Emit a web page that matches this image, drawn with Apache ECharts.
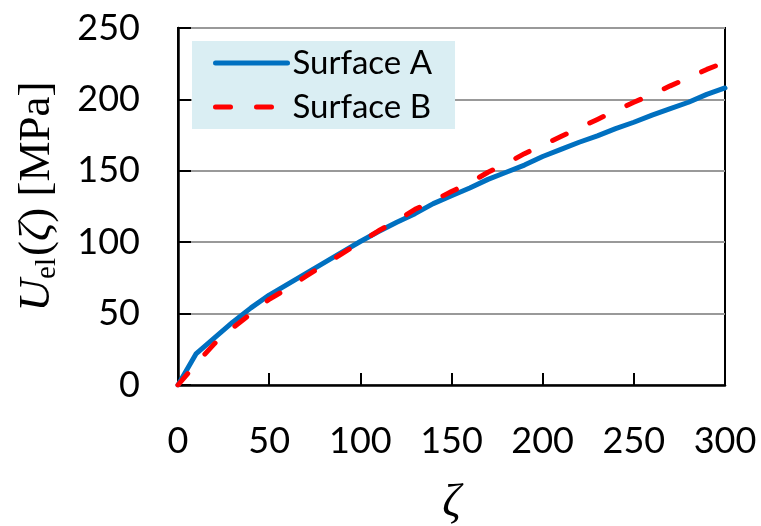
<!DOCTYPE html>
<html>
<head>
<meta charset="utf-8">
<script src="https://cdn.jsdelivr.net/npm/echarts@6/dist/echarts.min.js"></script>
<style>
html,body{margin:0;padding:0;background:#fff;}
#chart{width:761px;height:526px;}
</style>
</head>
<body>
<div id="chart"></div>
<script>
const zeta = [0,10,20,30,40,50,60,70,80,90,100,110,120,130,140,150,160,170,180,190,200,210,220,230,240,250,260,270,280,290,300];
const surfaceA = [0,22,33,44,54,63,70.5,78,85.5,93,100.5,107.5,114,120,127,132.5,138,144,149,154,160,165,170,174.5,179.5,184,189,193.5,198,203.5,208];
const surfaceB = [0,15,29,40,50,60,67.5,76,84,92,100,108,115,123,129,135.5,141.5,149,155,162,168,174,180,186,192,198,203.5,209.5,215,221,226];
const yTicks = [0,50,100,150,200,250];
const xTicks = [0,50,100,150,200,250,300];
const seriesNames = ['Surface A','Surface B'];

const pair = (xs, ys) => xs.map((x, i) => [x, ys[i]]);

const chart = echarts.init(document.getElementById('chart'), null, {renderer: 'canvas'});
const tickFont = 'Lato';
const dashB = [15, 26];
chart.setOption({
  animation: false,
  backgroundColor: '#ffffff',
  grid: {
    left: 178, right: 36, top: 28, bottom: 141,
    outerBoundsMode: 'none', containLabel: false,
    show: true, borderColor: '#000000', borderWidth: 2, backgroundColor: 'transparent'
  },
  legend: {
    left: 192, top: 41,
    orient: 'vertical',
    backgroundColor: '#DAEEF3',
    padding: [5, 23, 5, 21],
    itemWidth: 72, itemHeight: 34, itemGap: 10,
    itemStyle: {opacity: 0},
    textStyle: {fontFamily: tickFont, fontSize: 33, color: '#000', lineHeight: 34},
    data: [
      {name: seriesNames[0], itemStyle: {opacity: 0}, lineStyle: {color: '#0070C0', width: 5, cap: 'round'}},
      {name: seriesNames[1], itemStyle: {opacity: 0}, lineStyle: {color: '#FF0000', width: 5, type: dashB, cap: 'round'}}
    ]
  },
  xAxis: {
    type: 'value', min: xTicks[0], max: xTicks[xTicks.length-1], interval: 50,
    name: 'ζ', nameLocation: 'middle', nameGap: 96,
    nameTextStyle: {fontFamily: 'Liberation Serif', fontStyle: 'italic', fontSize: 46, color: '#000'},
    axisLine: {show: true, lineStyle: {color: '#000', width: 2.5}},
    axisTick: {show: true, inside: true, length: 12, lineStyle: {color: '#000', width: 2}},
    axisLabel: {fontFamily: tickFont, fontSize: 36, color: '#000', margin: 38},
    splitLine: {show: false}
  },
  yAxis: {
    type: 'value', min: yTicks[0], max: yTicks[yTicks.length-1], interval: 50,
    name: '{u|U}{sub|el}{p|(}{z|ζ}{p|) [MPa]}',
    nameLocation: 'middle', nameRotate: 90, nameGap: 116,
    nameTextStyle: {
      fontFamily: 'Liberation Serif', fontSize: 45, color: '#000',
      rich: {
        u: {fontFamily: 'Liberation Serif', fontStyle: 'italic', fontSize: 45, color: '#000', lineHeight: 50, verticalAlign: 'middle', padding: [0, 0, 0, 20]},
        sub: {fontFamily: 'Liberation Serif', fontSize: 29, color: '#000', lineHeight: 28, verticalAlign: 'bottom', padding: [0, 2, 0, 0]},
        p: {fontFamily: 'Liberation Serif', fontSize: 45, color: '#000', lineHeight: 50, verticalAlign: 'middle'},
        z: {fontFamily: 'Liberation Serif', fontStyle: 'italic', fontSize: 45, color: '#000', lineHeight: 50, verticalAlign: 'middle'}
      }
    },
    axisLine: {show: true, lineStyle: {color: '#000', width: 2.5}},
    axisTick: {show: true, inside: true, length: 13, lineStyle: {color: '#000', width: 2}},
    axisLabel: {fontFamily: tickFont, fontSize: 36, color: '#000', margin: 38},
    splitLine: {show: true, lineStyle: {color: '#999999', width: 2}}
  },
  series: [
    {
      name: seriesNames[0], type: 'line', data: pair(zeta, surfaceA),
      symbol: 'none', smooth: false, z: 3,
      lineStyle: {color: '#0070C0', width: 5, cap: 'round', join: 'round'},
      itemStyle: {color: '#0070C0'}
    },
    {
      name: seriesNames[1], type: 'line', data: pair(zeta, surfaceB),
      symbol: 'none', smooth: false, z: 4,
      lineStyle: {color: '#FF0000', width: 5, type: dashB, cap: 'round', join: 'round'},
      itemStyle: {color: '#FF0000'}
    }
  ]
});
</script>
</body>
</html>
